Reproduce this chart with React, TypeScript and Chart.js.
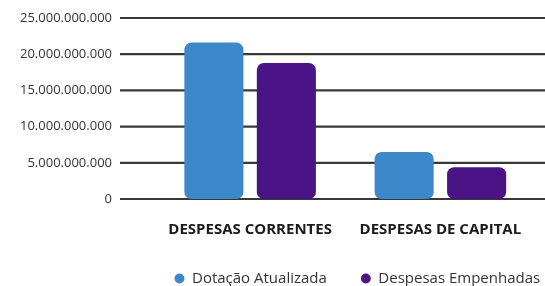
import React, { useEffect, useRef } from "react";
import { Chart, registerables } from "chart.js";

Chart.register(...registerables);

const categories = ["DESPESAS CORRENTES", "DESPESAS DE CAPITAL"];
const seriesNames = ["Dotação Atualizada", "Despesas Empenhadas"];
const dotacaoAtualizada = [21600000000, 6500000000];
const despesasEmpenhadas = [18800000000, 4400000000];
const yMax = 25000000000;
const yStep = 5000000000;

const FONT = "'Open Sans', 'DejaVu Sans', sans-serif";

function fmt(v: number): string {
  return Math.round(v).toString().replace(/\B(?=(\d{3})+(?!\d))/g, ".");
}

const gridPlugin = {
  id: "fullGrid",
  beforeDatasetsDraw(chart: any) {
    const y = chart.scales.y;
    const ctx = chart.ctx;
    ctx.save();
    ctx.strokeStyle = "#383838";
    ctx.lineWidth = 2.2;
    y.ticks.forEach((t: any) => {
      const py = y.getPixelForValue(t.value);
      ctx.beginPath();
      ctx.moveTo(120, py);
      ctx.lineTo(chart.width, py);
      ctx.stroke();
    });
    ctx.restore();
  },
};

const legendPlacer = {
  id: "legendPlacer",
  afterLayout(chart: any) {
    const lg = chart.legend;
    if (!lg) return;
    lg.left = 140.5;
    lg.right = chart.width + 200;
    lg.top = 237;
    lg.bottom = chart.height;
  },
};

export default function App() {
  const ref = useRef<HTMLCanvasElement | null>(null);
  useEffect(() => {
    if (!ref.current) return;
    const common = {
      borderRadius: 7,
      borderSkipped: false,
      categoryPercentage: 0.762,
      barPercentage: 0.815,
    };
    const chart = new Chart(ref.current, {
      type: "bar",
      data: {
        labels: categories,
        datasets: [
          { label: seriesNames[0], data: dotacaoAtualizada, backgroundColor: "#3d88ca", ...common },
          { label: seriesNames[1], data: despesasEmpenhadas, backgroundColor: "#4a1486", ...common },
        ],
      },
      options: {
        animation: false,
        responsive: true,
        maintainAspectRatio: false,
        layout: { padding: { left: 0, right: 9.5, top: 18, bottom: 0 } },
        plugins: {
          legend: {
            position: "bottom",
            align: "start",
            maxHeight: 41,
            labels: {
              usePointStyle: true,
              pointStyle: "circle",
              boxWidth: 10,
              boxHeight: 7,
              padding: 34,
              color: "#333333",
              font: { family: FONT, size: 15 },
            },
          },
          tooltip: { enabled: false },
        },
        scales: {
          x: {
            grid: { display: false },
            border: { display: false },
            afterFit: (s: any) => {
              s.height = 46;
            },
            ticks: {
              color: "#1a1a1a",
              padding: 14,
              font: { family: FONT, size: 15, weight: "bold" },
            },
          },
          y: {
            min: 0,
            max: yMax,
            grid: { display: false },
            border: { display: false },
            afterFit: (s: any) => {
              s.width = 155;
              s.paddingTop = 0;
              s.paddingBottom = 0;
            },
            ticks: {
              stepSize: yStep,
              padding: 35,
              color: "#333333",
              font: { family: FONT, size: 13 },
              callback: (v: any) => fmt(Number(v)),
            },
          },
        },
      },
      plugins: [gridPlugin, legendPlacer],
    });
    return () => chart.destroy();
  }, []);
  return (
    <div style={{ position: "fixed", left: 0, top: 0, width: 545, height: 286, background: "#fff" }}>
      <canvas ref={ref} />
    </div>
  );
}
